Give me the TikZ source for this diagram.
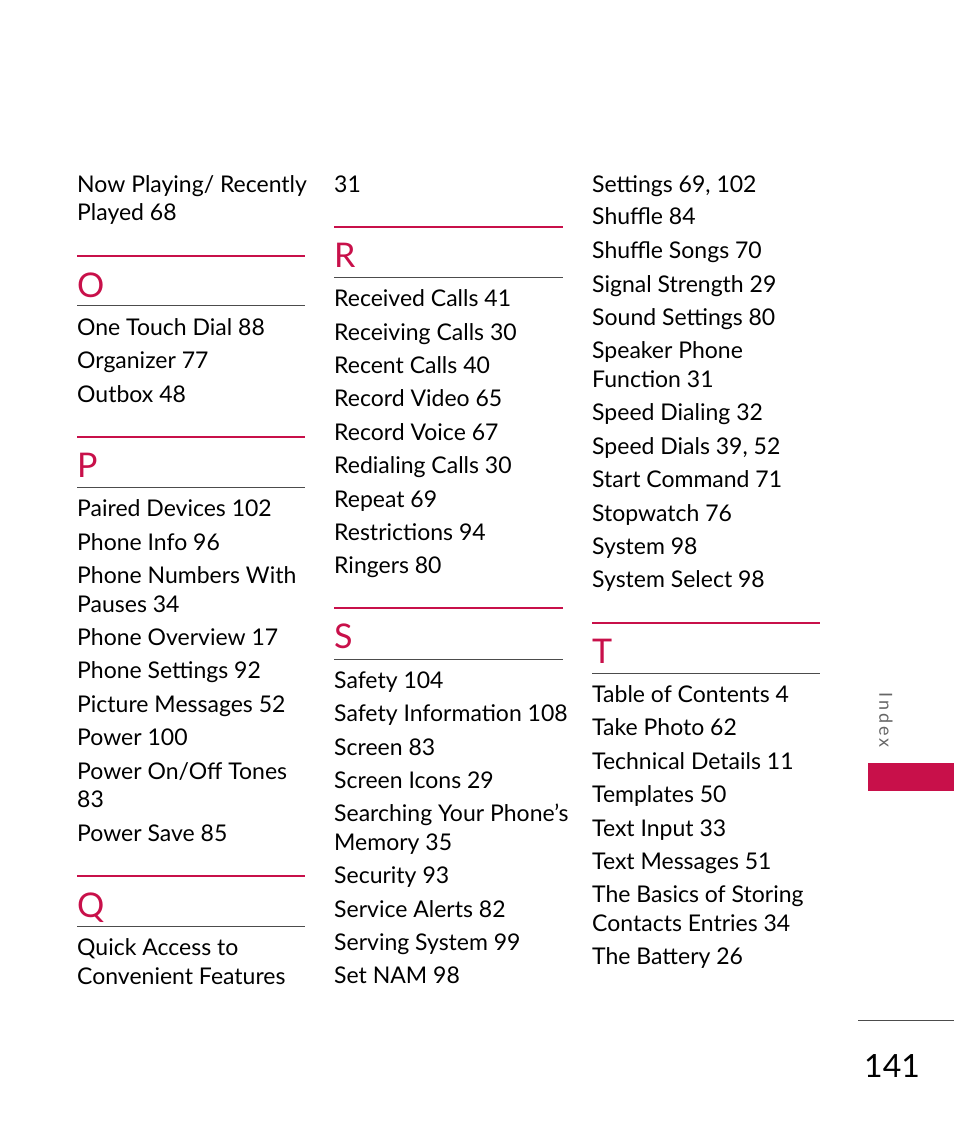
\documentclass[tikz,border=0pt]{standalone}
\usepackage{fontspec}
\setmainfont{Lato}
\definecolor{lgred}{HTML}{C8104A}
\begin{document}
\begin{tikzpicture}[x=1pt,y=-1pt,
  e/.style={anchor=base west,inner sep=0pt,font=\fontsize{23}{23}\selectfont},
  L/.style={anchor=base west,inner sep=0pt,text=lgred,font=\fontsize{34}{34}\selectfont},
  red/.style={lgred,line width=2.5pt},
  thin/.style={black!70,line width=0.6pt}]
\useasboundingbox (0,0) rectangle (954,1145);
% column 1
\node[e] (a1) at (77,192) {Now Playing/ Recently};
\node[e] (a2) at (77,220) {Played 68};
\draw[red] (77,256) -- (305,256);
\node[L] (lo) at (77,297) {O};
\draw[thin] (77,305) -- (305,305);
\node[e] (a3) at (77,335) {One Touch Dial 88};
\node[e] (a4) at (77,368) {Organizer 77};
\node[e] (a5) at (77,402) {Outbox 48};
\draw[red] (77,437) -- (305,437);
\node[L] (lp) at (77,477) {P};
\draw[thin] (77,487) -- (305,487);
\node[e] (b1) at (77,516) {Paired Devices 102};
\node[e] (b2) at (77,550) {Phone Info 96};
\node[e] (b3) at (77,583) {Phone Numbers With};
\node[e] (b4) at (77,612) {Pauses 34};
\node[e] (b5) at (77,645) {Phone Overview 17};
\node[e] (b6) at (77,678) {Phone Settings 92};
\node[e] (b7) at (77,712) {Picture Messages 52};
\node[e] (b8) at (77,745) {Power 100};
\node[e] (b9) at (77,779) {Power On/Off Tones};
\node[e] (b10) at (77,807) {83};
\node[e] (b11) at (77,841) {Power Save 85};
\draw[red] (77,876) -- (305,876);
\node[L] (lq) at (77,917) {Q};
\draw[thin] (77,926) -- (305,926);
\node[e] (c1) at (77,955) {Quick Access to};
\node[e] (c2) at (77,984) {Convenient Features};
% column 2
\node[e] (d0) at (334,192) {31};
\draw[red] (334,227) -- (563,227);
\node[L] (lr) at (334,267) {R};
\draw[thin] (334,277) -- (563,277);
\node[e] (d1) at (334,306) {Received Calls 41};
\node[e] (d2) at (334,340) {Receiving Calls 30};
\node[e] (d3) at (334,373) {Recent Calls 40};
\node[e] (d4) at (334,406) {Record Video 65};
\node[e] (d5) at (334,440) {Record Voice 67};
\node[e] (d6) at (334,473) {Redialing Calls 30};
\node[e] (d7) at (334,507) {Repeat 69};
\node[e] (d8) at (334,540) {Restrictions 94};
\node[e] (d9) at (334,573) {Ringers 80};
\draw[red] (334,608) -- (563,608);
\node[L] (ls) at (334,648) {S};
\draw[thin] (334,659) -- (563,659);
\node[e] (s1) at (334,688) {Safety 104};
\node[e] (s2) at (334,721) {Safety Information 108};
\node[e] (s3) at (334,755) {Screen 83};
\node[e] (s4) at (334,788) {Screen Icons 29};
\node[e] (s5) at (334,821) {Searching Your Phone’s};
\node[e] (s6) at (334,850) {Memory 35};
\node[e] (s7) at (334,883) {Security 93};
\node[e] (s8) at (334,917) {Service Alerts 82};
\node[e] (s9) at (334,950) {Serving System 99};
\node[e] (s10) at (334,983) {Set NAM 98};
% column 3
\node[e] (f1) at (592,192) {Settings 69, 102};
\node[e] (f2) at (592,224) {Shuffle 84};
\node[e] (f3) at (592,258) {Shuffle Songs 70};
\node[e] (f4) at (592,292) {Signal Strength 29};
\node[e] (f5) at (592,325) {Sound Settings 80};
\node[e] (f6) at (592,358) {Speaker Phone};
\node[e] (f7) at (592,387) {Function 31};
\node[e] (f8) at (592,420) {Speed Dialing 32};
\node[e] (f9) at (592,454) {Speed Dials 39, 52};
\node[e] (f10) at (592,487) {Start Command 71};
\node[e] (f11) at (592,521) {Stopwatch 76};
\node[e] (f12) at (592,554) {System 98};
\node[e] (f13) at (592,587) {System Select 98};
\draw[red] (592,623) -- (820,623);
\node[L] (lt) at (592,663) {T};
\draw[thin] (592,673) -- (820,673);
\node[e] (t1) at (592,702) {Table of Contents 4};
\node[e] (t2) at (592,735) {Take Photo 62};
\node[e] (t3) at (592,769) {Technical Details 11};
\node[e] (t4) at (592,802) {Templates 50};
\node[e] (t5) at (592,836) {Text Input 33};
\node[e] (t6) at (592,869) {Text Messages 51};
\node[e] (t7) at (592,902) {The Basics of Storing};
\node[e] (t8) at (592,931) {Contacts Entries 34};
\node[e] (t9) at (592,964) {The Battery 26};
% side tab
\node[rotate=-90,anchor=center,inner sep=0pt,text=black!60,font=\fontsize{18}{18}\selectfont] (idx) at (886,720) {I\,n\,d\,e\,x};
\fill[lgred] (868,763) rectangle (954,791);
\draw[black!70,line width=0.8pt] (858,1020) -- (954,1020);
\node[anchor=base west,inner sep=0pt,font=\fontsize{32}{32}\selectfont] (pg) at (864,1077) {141};
\end{tikzpicture}
\end{document}
